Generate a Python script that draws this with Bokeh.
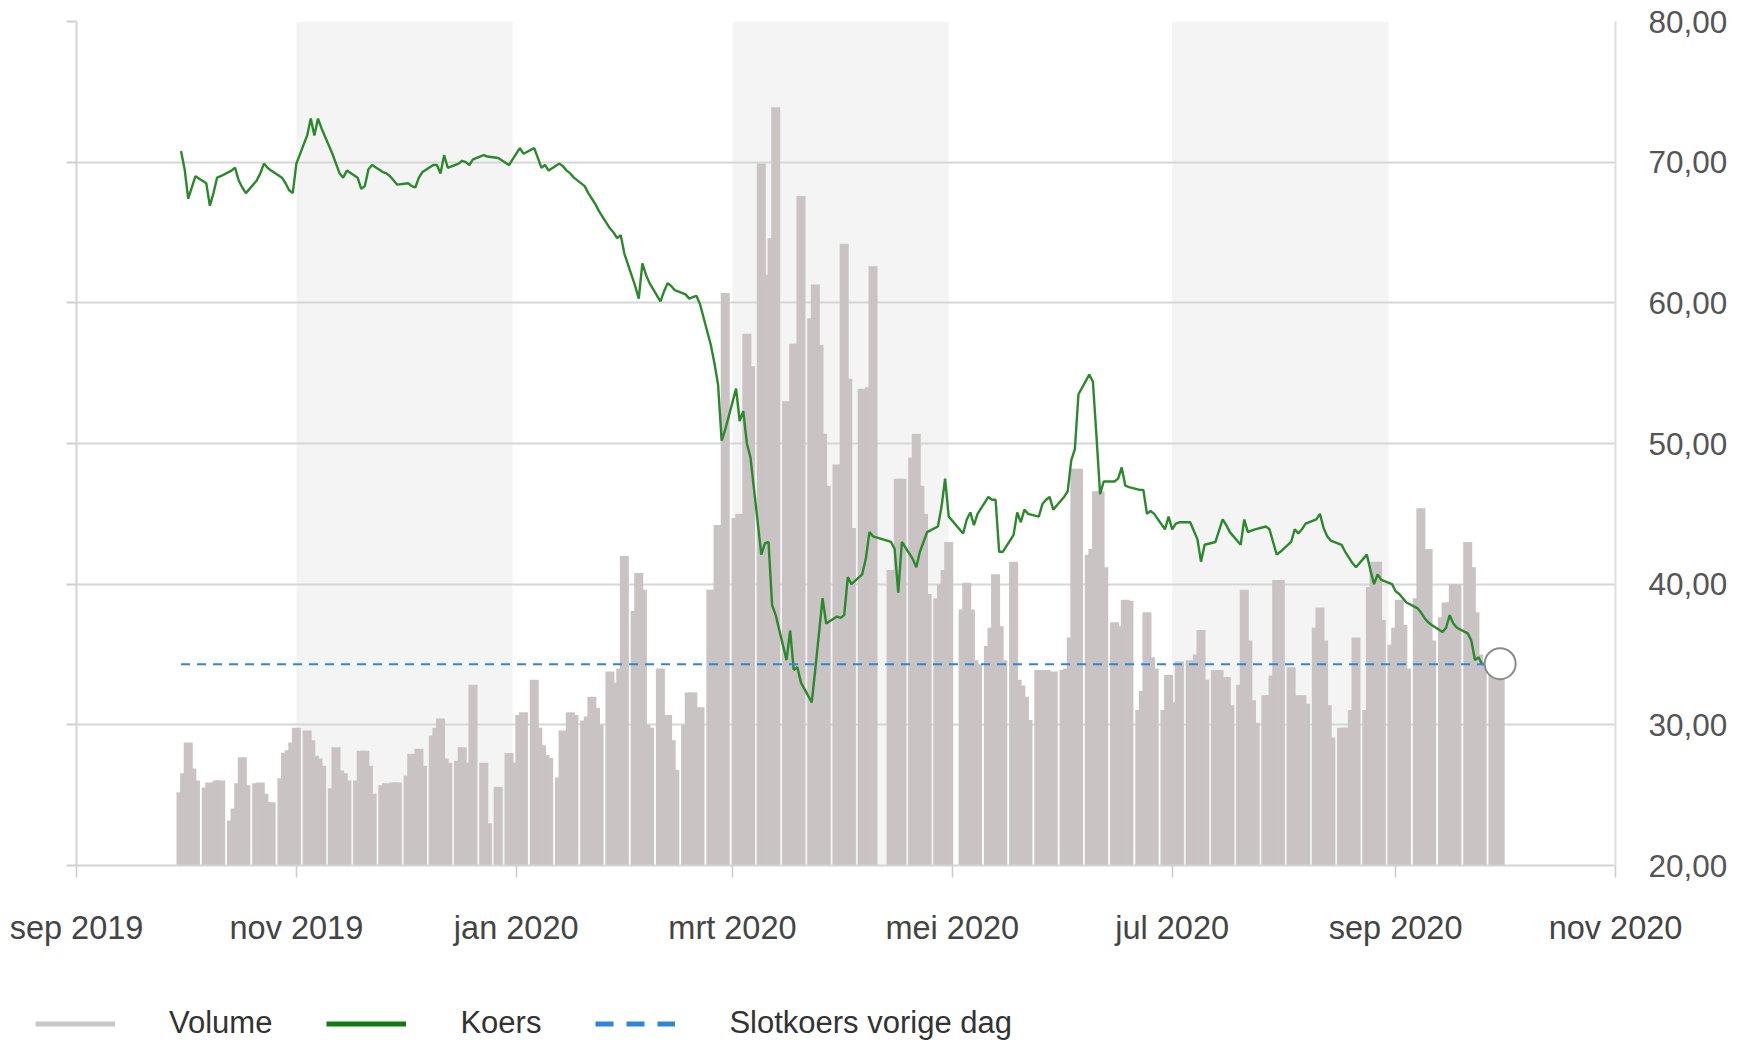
import pandas as pd
from bokeh.plotting import figure
from bokeh.models import (Range1d, LinearAxis, FixedTicker, CustomJSTickFormatter,
                          BoxAnnotation, Legend, LegendItem, ColumnDataSource)
from bokeh.embed import file_html
from bokeh.resources import INLINE

# ---------------- data ----------------
FIRST_DAY = "2019-09-30"
LAST_DAY = "2020-09-30"
HOLIDAYS = ["2019-12-25", "2019-12-26", "2020-01-01", "2020-04-10", "2020-04-13", "2020-05-01"]

# closing price (EUR) per trading day
CLOSE = [
    70.8,
    69.5, 67.4, 68.2, 69.0, 68.5, 66.9, 67.8, 68.9, 69.0, 69.4, 69.6, 68.7, 68.2, 67.8,
    68.7, 69.2, 69.9, 69.6, 69.4, 68.9, 68.5, 68.0, 67.8,
    69.9, 71.9, 73.1, 71.9, 73.1, 72.4, 70.6, 69.9, 69.2, 68.9, 69.4, 68.9, 68.1, 68.3,
    69.5, 69.8, 69.3, 69.2, 69.0, 68.7, 68.4,
    68.5, 68.3, 68.2, 68.9, 69.3, 69.8, 69.8, 69.2, 70.5, 69.6, 69.9, 70.1, 70.0, 69.8,
    70.2, 70.5, 70.4, 70.3, 69.8, 70.2,
    71.0, 70.6, 71.0, 70.3, 69.6, 69.8, 69.4, 69.9, 69.7, 69.4, 69.2, 68.9, 68.3, 67.8,
    67.4, 67.0, 66.5, 65.3, 65.0, 64.6, 64.8, 63.5,
    61.2, 60.3, 62.8, 62.0, 61.4, 60.1, 60.8, 61.4, 61.2, 60.9, 60.6, 60.3, 60.4, 60.5,
    59.9, 57.0, 55.7, 54.2, 50.2, 51.0,
    53.9, 51.6, 52.3, 50.0, 49.0, 42.1, 42.9, 43.0, 38.5, 37.8, 34.6, 36.7, 33.9, 34.1,
    33.0, 31.6, 34.0, 36.5, 39.0, 37.2, 37.7, 37.6,
    37.8, 40.5, 40.0, 40.7, 41.8, 43.7, 43.4, 43.0, 42.5, 39.4, 43.0, 41.8, 41.2, 42.3,
    43.0, 43.7, 44.1, 45.5, 47.5, 44.8,
    43.6, 44.6, 45.1, 44.2, 45.0, 46.2, 46.0, 46.0, 42.3, 42.3, 43.5, 45.1, 44.4, 45.3,
    45.0, 44.8, 45.7, 46.0, 46.2, 45.3,
    46.2, 46.6, 48.8, 49.6, 53.5, 54.9, 54.4, 50.5, 46.4, 47.3, 47.3, 47.5, 48.3, 47.0,
    46.9, 46.7, 46.7, 45.0, 45.2, 45.0, 43.9, 44.8,
    43.9, 44.3, 44.4, 44.4, 43.8, 43.2, 41.6, 42.8, 43.0, 43.8, 44.6, 44.2, 43.7, 42.8,
    44.6, 43.7, 43.8, 43.9, 44.1, 43.9, 43.0, 42.1, 42.3,
    43.0, 43.9, 43.6, 43.9, 44.3, 44.6, 45.0, 44.0, 43.4, 43.1, 42.8, 42.3, 41.9, 41.5,
    41.2, 42.1, 41.0, 40.0, 40.7, 40.3, 40.0,
    39.5, 39.3, 39.0, 38.7, 38.3, 38.0, 37.6, 37.3, 37.1, 36.6, 36.9, 37.8, 37.2, 36.9,
    36.5, 36.0, 34.6, 34.8, 34.3, 34.4, 34.3, 34.35,
]

# traded volume (x 1000 shares) per trading day
VOLUME = [
    520,
    655, 875, 690, 605, 555, 590, 520, 605, 605, 320, 405, 585, 770, 570,
    585, 590, 510, 450, 450, 620, 800, 820, 875,
    980, 960, 890, 780, 760, 710, 550, 840, 675, 655, 605, 605, 815, 815,
    710, 510, 570, 585, 425, 590, 590,
    640, 795, 695, 830, 710, 925, 980, 1045, 760, 730, 745, 840, 690, 730,
    1285, 730, 300, 560, 800, 730,
    1070, 1090, 1320, 980, 855, 785, 765, 625, 960, 640, 1090, 1070, 1030, 1060,
    1200, 1120, 1000, 1380, 1265, 1300, 1400, 2200,
    1810, 2080, 1960, 1000, 980, 1400, 1070, 1070, 890, 680, 1000, 1230, 1230, 960,
    1125, 1960, 1950, 2420, 2000, 4070,
    2470, 2500, 2200, 3780, 3550, 4990, 4110, 4200, 4460, 5390, 3300, 3270, 3710, 3710,
    4760, 3890, 4130, 3700, 3070, 2700, 2850, 2530,
    4420, 3460, 2400, 3390, 2900, 3400, 4260, 2100, 2100, 2750, 2750, 2900, 3070, 2700,
    2500, 1930, 1900, 2000, 2100, 2300,
    1820, 2010, 1820, 1460, 1430, 1560, 1690, 2070, 1700, 1460, 2160, 1320, 1280, 1200,
    1035, 1390, 1380, 1390, 1370, 1380,
    1390, 1400, 1620, 2820, 2820, 2210, 2250, 2660, 2660, 2120, 1730, 1700, 1690, 1890,
    1880, 1105, 1240, 1800, 1480, 1400, 1105, 1355,
    1160, 1120, 1450, 1460, 1175, 1500, 1675, 1320, 1390, 1390, 1140, 1340, 1140, 1285,
    1960, 1600, 1175, 1015, 1210, 1210, 1350, 2030, 2030,
    1410, 1175, 1210, 1210, 1150, 1690, 1835, 1600, 1140, 910, 980, 980, 980, 1105,
    1620, 1105, 1980, 2160, 2160, 1745, 1570,
    1690, 1890, 1710, 1400, 1900, 2540, 2250, 2250, 1600, 1765, 1870, 1870, 2000, 2000,
    2300, 2120, 1800, 1500, 1450, 1390, 1390, 1390,
]

PREV_CLOSE = 34.30          # "Slotkoers vorige dag"
Y_TICKS = [20, 30, 40, 50, 60, 70, 80]
X_TICKS = ["2019-09-01", "2019-11-01", "2020-01-01", "2020-03-01",
           "2020-05-01", "2020-07-01", "2020-09-01", "2020-11-01"]
BAND_START = ["2019-11-01", "2020-03-01", "2020-07-01"]
BAND_END = ["2019-12-31", "2020-04-30", "2020-08-30"]
VOLUME_MAX = 6000
LABELS = ["Volume", "Koers", "Slotkoers vorige dag"]

# ---------------- build ----------------
def ms(s):
    return pd.Timestamp(s).value / 1e6

dates = pd.bdate_range(FIRST_DAY, LAST_DAY)
dates = dates[~dates.isin(pd.to_datetime(HOLIDAYS))]
assert len(dates) == len(CLOSE) == len(VOLUME), (len(dates), len(CLOSE), len(VOLUME))

FONT = "Liberation Sans"
W = 1730
src = ColumnDataSource(dict(date=dates, close=CLOSE, volume=VOLUME,
                            prev=[PREV_CLOSE] * len(dates)))

p = figure(width=W, height=970, x_axis_type="datetime",
           x_range=Range1d(ms(X_TICKS[0]), ms(X_TICKS[-1])),
           y_range=Range1d(Y_TICKS[0], Y_TICKS[-1]),
           y_axis_location="right",
           output_backend="svg", toolbar_location=None,
           min_border_left=76, min_border_right=110,
           min_border_top=21, min_border_bottom=105)
p.outline_line_color = None
p.background_fill_color = "white"
p.border_fill_color = "white"
p.extra_y_ranges = {"vol": Range1d(0, VOLUME_MAX)}

for s, e in zip(BAND_START, BAND_END):
    p.add_layout(BoxAnnotation(left=ms(s), right=ms(e), fill_color="#f4f4f4",
                               fill_alpha=1.0, line_alpha=0, level="image"))

p.xgrid.visible = False
p.ygrid.ticker = FixedTicker(ticks=Y_TICKS)
p.ygrid.grid_line_color = "#d6d6d6"
p.ygrid.grid_line_width = 2

# right axis with labels
ya = p.yaxis[0]
ya.ticker = FixedTicker(ticks=Y_TICKS)
ya.formatter = CustomJSTickFormatter(code="return tick.toFixed(2).replace('.', ',');")
ya.axis_line_color = "#dedede"
ya.axis_line_width = 2
ya.major_tick_line_color = None
ya.minor_tick_line_color = None
ya.major_label_standoff = 27
ya.major_label_text_font = FONT
ya.major_label_text_font_size = "31.5px"
ya.major_label_text_color = "#555555"

# left axis: only the line and ticks
la = LinearAxis(ticker=FixedTicker(ticks=Y_TICKS),
                formatter=CustomJSTickFormatter(code="return '';"),
                axis_line_color="#d4d4d4", axis_line_width=2,
                major_tick_out=10, major_tick_in=0,
                major_tick_line_color="#cfcfcf", major_tick_line_width=2,
                minor_tick_line_color=None, major_label_text_font_size="1px")
p.add_layout(la, "left")

# bottom date axis
xa = p.xaxis[0]
xa.ticker = FixedTicker(ticks=[ms(t) for t in X_TICKS])
xa.formatter = CustomJSTickFormatter(code="""
const m = ['jan','feb','mrt','apr','mei','jun','jul','aug','sep','okt','nov','dec'];
const d = new Date(tick);
return m[d.getUTCMonth()] + ' ' + d.getUTCFullYear();
""")
xa.axis_line_color = "#d4d4d4"
xa.axis_line_width = 2
xa.major_tick_out = 12
xa.major_tick_in = 0
xa.major_tick_line_color = "#cccccc"
xa.major_tick_line_width = 1.5
xa.minor_tick_line_color = None
xa.major_label_standoff = 32
xa.major_label_text_font = FONT
xa.major_label_text_font_size = "32.5px"
xa.major_label_text_color = "#444444"

# glyphs
p.vbar(x="date", top="volume", bottom=0, width=2.5 * 86400000, source=src,
       y_range_name="vol", fill_color="#c9c3c4", line_color=None)
p.line(x="date", y="close", source=src, line_color="#2c882c", line_width=2.4)
p.line(x=[dates[0], dates[-1]], y=[PREV_CLOSE, PREV_CLOSE],
       line_color="#2f86d8", line_width=2, line_dash="9 7")
p.scatter(x=[dates[-1]], y=[CLOSE[-1]], size=31, fill_color="white",
          line_color="#8a8a8a", line_width=2)

# ---------------- legend strip (separate root below the chart) ----------------
q = figure(width=W, height=74, x_range=Range1d(0, 1), y_range=Range1d(0, 1),
           x_axis_location=None, y_axis_location=None,
           output_backend="svg", toolbar_location=None,
           min_border_left=0, min_border_right=0, min_border_top=0, min_border_bottom=0)
q.outline_line_color = None
q.xgrid.visible = False
q.ygrid.visible = False
# same series as above (outside this strip's ranges, so only their swatches show)
r1 = q.line(x="date", y="volume", source=src, line_color="#c8c8c8", line_width=5)
r2 = q.line(x="date", y="close", source=src, line_color="#137a13", line_width=5)
r3 = q.line(x="date", y="prev", source=src, line_color="#2f86d8", line_width=5,
            line_dash="18 13")
leg = Legend(items=[LegendItem(label=LABELS[0], renderers=[r1]),
                    LegendItem(label=LABELS[1], renderers=[r2]),
                    LegendItem(label=LABELS[2], renderers=[r3])],
             orientation="horizontal", location="top_left",
             label_text_font=FONT, label_text_font_size="31px",
             label_text_color="#333333", glyph_width=80, glyph_height=31,
             label_standoff=54, spacing=54, padding=35, margin=0,
             border_line_alpha=0, background_fill_alpha=0)
q.add_layout(leg)

open("out.html", "w").write(file_html([p, q], INLINE))
